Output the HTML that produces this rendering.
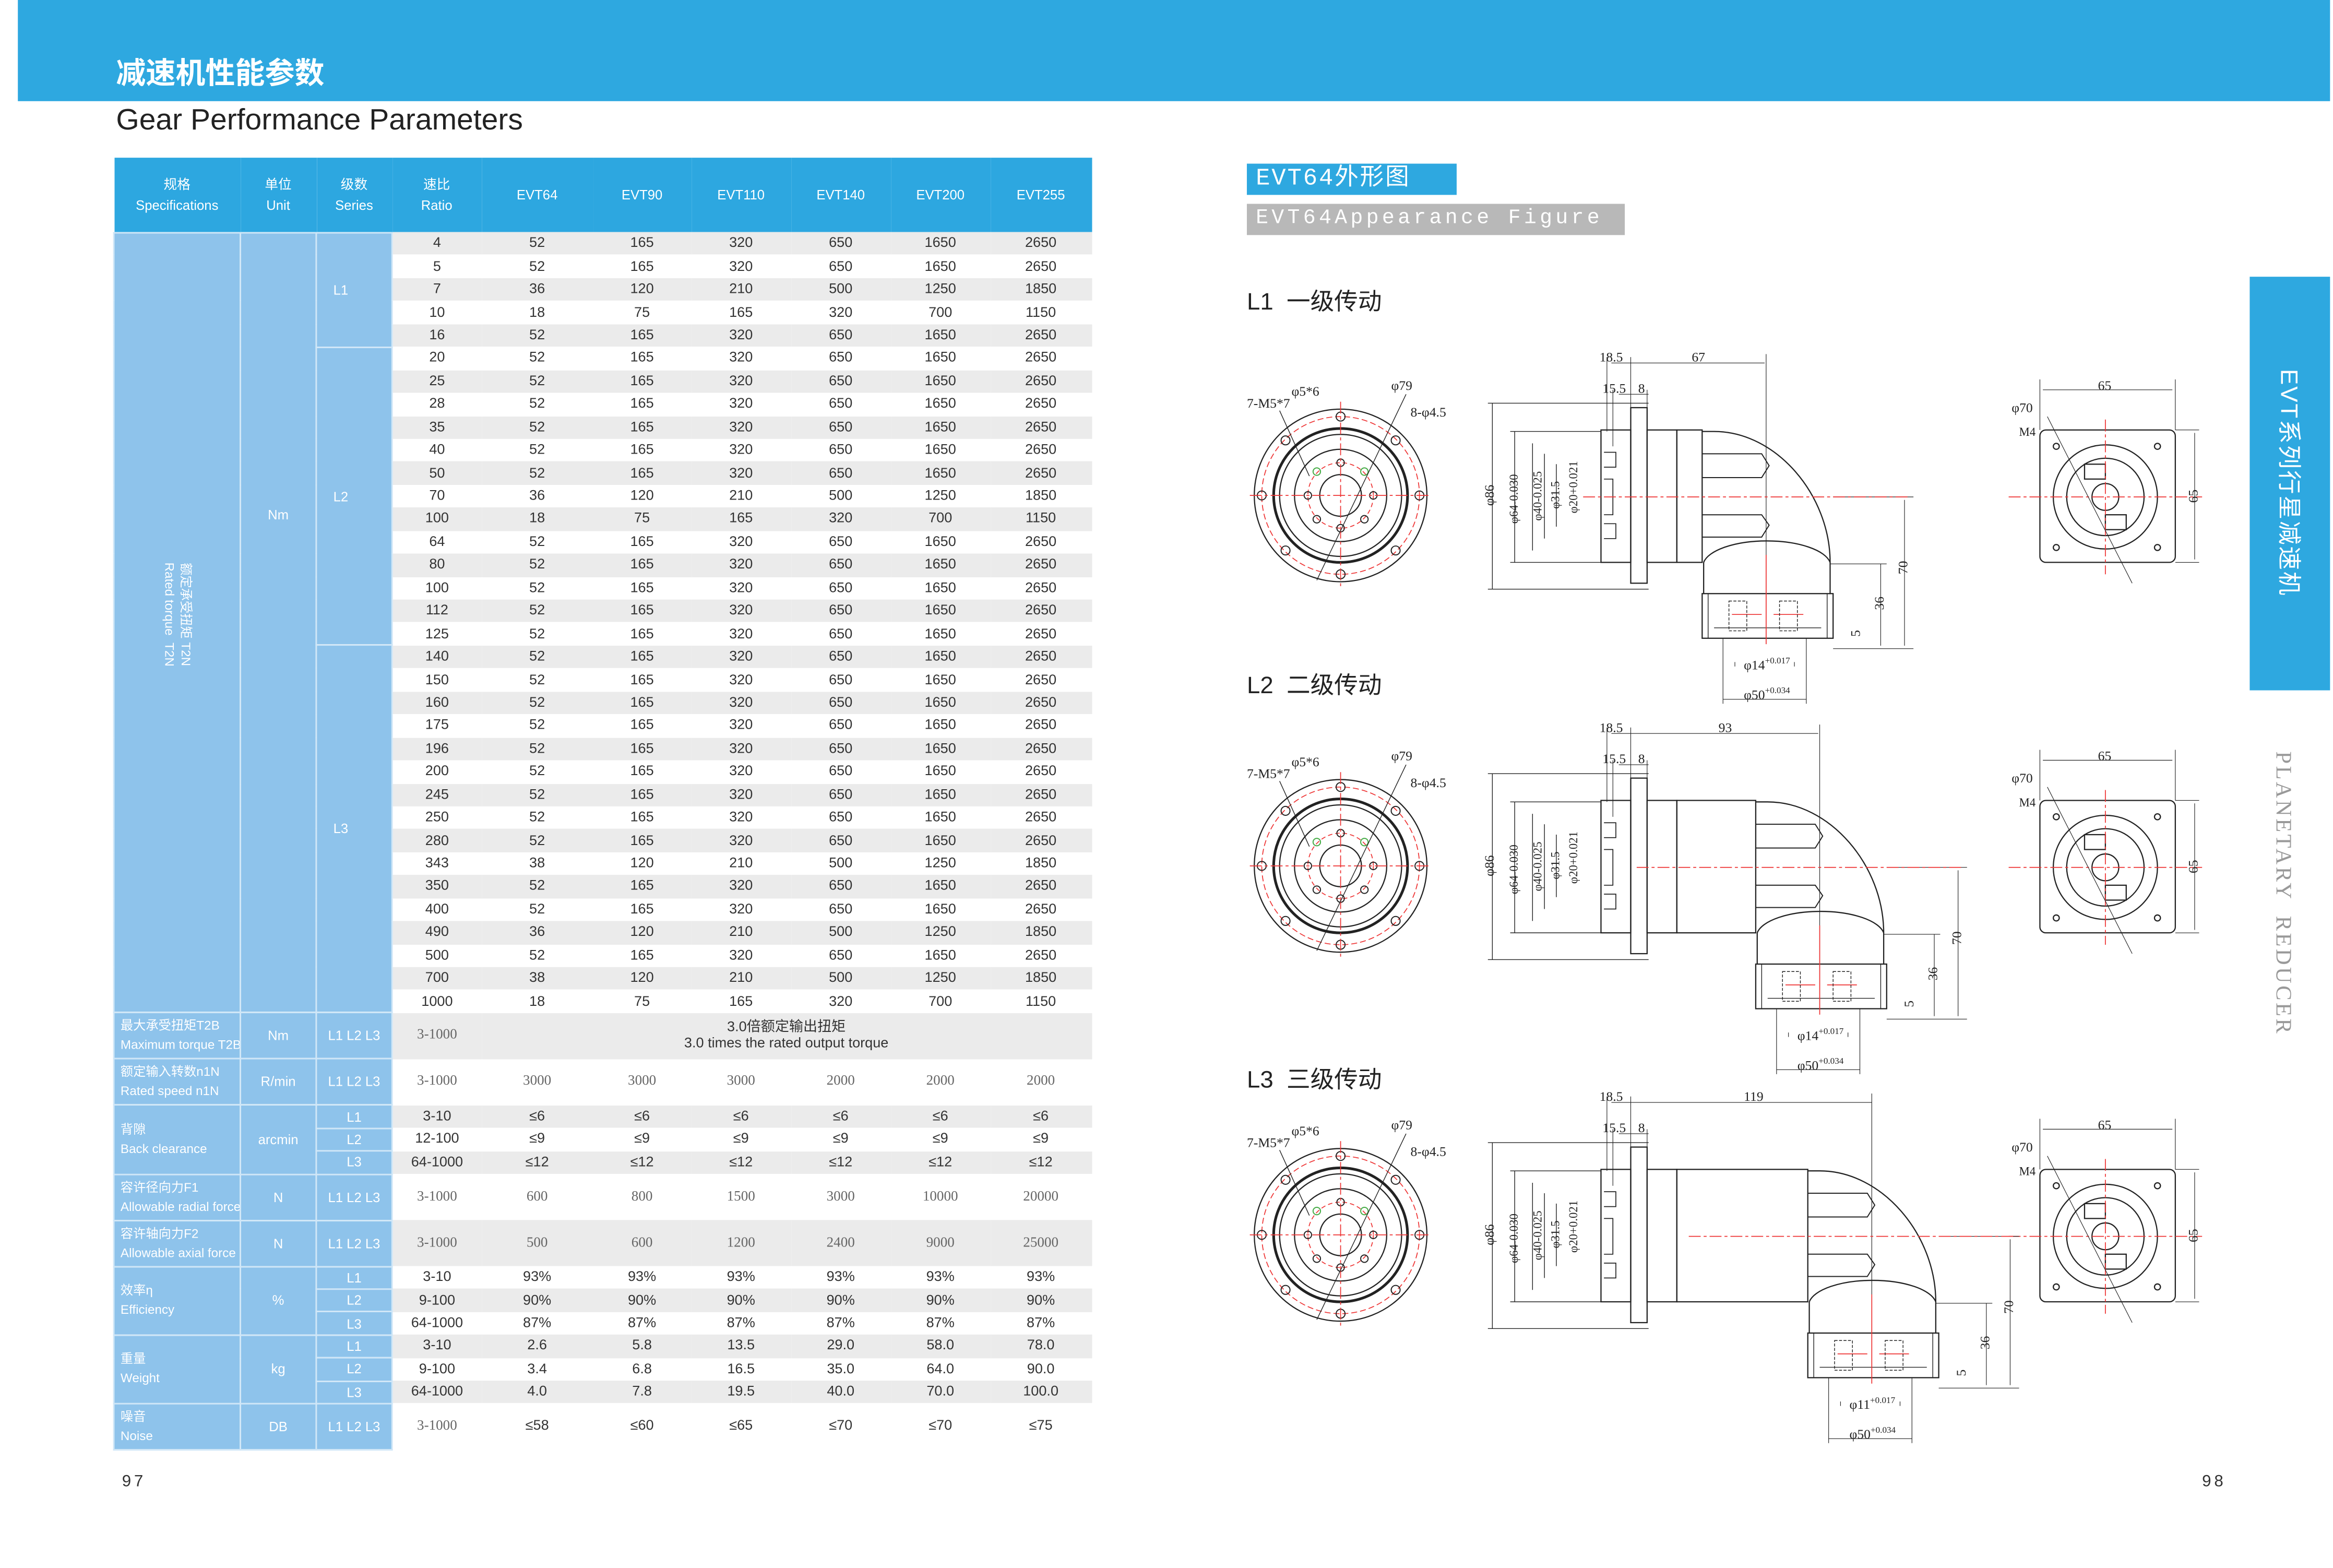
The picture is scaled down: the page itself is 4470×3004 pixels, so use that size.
<!DOCTYPE html>
<html><head><meta charset="utf-8">
<style>
*{margin:0;padding:0;box-sizing:border-box}
html,body{width:4470px;height:3004px;overflow:hidden;background:#fff}
#p{position:absolute;left:0;top:0;width:1568px;height:1054px;transform:scale(2.8508,2.8503);transform-origin:0 0;font-family:"Liberation Sans","Noto Sans CJK SC",sans-serif;background:#fff}
.ab{position:absolute}
table{position:absolute;left:76px;top:106px;width:657px;border-collapse:collapse;table-layout:fixed;font-size:9.5px;color:#333}
td{text-align:center;vertical-align:middle;padding:0;white-space:nowrap;overflow:hidden}
tr.h td{background:#2da7e0;color:#fff;height:50px;font-size:9px;line-height:14px}
tr.r td{height:15.44px}
tr.g td{background:#ebebeb}
td.b{background:#8ec3eb !important;color:#fff;border:1px solid #cfe6f7;font-size:9px}
td.l{text-align:left;padding-left:4px;line-height:13px;font-size:8.5px}
td.lv{text-align:left;padding-left:11px}
.sv{font-family:"Liberation Serif",serif;color:#666}
tr.t td{height:31px}
tr.s td{height:15.4px}
</style></head><body><div id="p">
<div class="ab" style="left:12px;top:0;width:1554px;height:68px;background:#2ea8e0"></div>
<div class="ab" style="left:78px;top:33px;color:#fff;font-size:20px;font-weight:bold;font-family:'Noto Sans CJK SC',sans-serif">减速机性能参数</div>
<div class="ab" style="left:78px;top:70px;color:#222;font-size:20px">Gear Performance Parameters</div>

<table>
<colgroup><col style="width:85px"><col style="width:51px"><col style="width:51px"><col style="width:60px"><col style="width:75px"><col style="width:66px"><col style="width:67px"><col style="width:67px"><col style="width:67px"><col style="width:68px"></colgroup>
<tr class="h"><td>规格<br>Specifications</td><td>单位<br>Unit</td><td>级数<br>Series</td><td>速比<br>Ratio</td><td>EVT64</td><td>EVT90</td><td>EVT110</td><td>EVT140</td><td>EVT200</td><td>EVT255</td></tr>
<tr class="r g"><td class="b" rowspan="34" style="vertical-align:top"><div style="height:245px"></div><div style="transform:rotate(90deg);white-space:nowrap;font-size:8.5px;line-height:11px">额定承受扭矩 T2N<br>Rated torque &nbsp;T2N</div></td><td class="b" rowspan="34" style="vertical-align:top;padding-top:184px">Nm</td><td class="b lv" rowspan="5">L1</td><td>4</td><td>52</td><td>165</td><td>320</td><td>650</td><td>1650</td><td>2650</td></tr>
<tr class="r"><td>5</td><td>52</td><td>165</td><td>320</td><td>650</td><td>1650</td><td>2650</td></tr>
<tr class="r g"><td>7</td><td>36</td><td>120</td><td>210</td><td>500</td><td>1250</td><td>1850</td></tr>
<tr class="r"><td>10</td><td>18</td><td>75</td><td>165</td><td>320</td><td>700</td><td>1150</td></tr>
<tr class="r g"><td>16</td><td>52</td><td>165</td><td>320</td><td>650</td><td>1650</td><td>2650</td></tr>
<tr class="r"><td class="b lv" rowspan="13">L2</td><td>20</td><td>52</td><td>165</td><td>320</td><td>650</td><td>1650</td><td>2650</td></tr>
<tr class="r g"><td>25</td><td>52</td><td>165</td><td>320</td><td>650</td><td>1650</td><td>2650</td></tr>
<tr class="r"><td>28</td><td>52</td><td>165</td><td>320</td><td>650</td><td>1650</td><td>2650</td></tr>
<tr class="r g"><td>35</td><td>52</td><td>165</td><td>320</td><td>650</td><td>1650</td><td>2650</td></tr>
<tr class="r"><td>40</td><td>52</td><td>165</td><td>320</td><td>650</td><td>1650</td><td>2650</td></tr>
<tr class="r g"><td>50</td><td>52</td><td>165</td><td>320</td><td>650</td><td>1650</td><td>2650</td></tr>
<tr class="r"><td>70</td><td>36</td><td>120</td><td>210</td><td>500</td><td>1250</td><td>1850</td></tr>
<tr class="r g"><td>100</td><td>18</td><td>75</td><td>165</td><td>320</td><td>700</td><td>1150</td></tr>
<tr class="r"><td>64</td><td>52</td><td>165</td><td>320</td><td>650</td><td>1650</td><td>2650</td></tr>
<tr class="r g"><td>80</td><td>52</td><td>165</td><td>320</td><td>650</td><td>1650</td><td>2650</td></tr>
<tr class="r"><td>100</td><td>52</td><td>165</td><td>320</td><td>650</td><td>1650</td><td>2650</td></tr>
<tr class="r g"><td>112</td><td>52</td><td>165</td><td>320</td><td>650</td><td>1650</td><td>2650</td></tr>
<tr class="r"><td>125</td><td>52</td><td>165</td><td>320</td><td>650</td><td>1650</td><td>2650</td></tr>
<tr class="r g"><td class="b lv" rowspan="16">L3</td><td>140</td><td>52</td><td>165</td><td>320</td><td>650</td><td>1650</td><td>2650</td></tr>
<tr class="r"><td>150</td><td>52</td><td>165</td><td>320</td><td>650</td><td>1650</td><td>2650</td></tr>
<tr class="r g"><td>160</td><td>52</td><td>165</td><td>320</td><td>650</td><td>1650</td><td>2650</td></tr>
<tr class="r"><td>175</td><td>52</td><td>165</td><td>320</td><td>650</td><td>1650</td><td>2650</td></tr>
<tr class="r g"><td>196</td><td>52</td><td>165</td><td>320</td><td>650</td><td>1650</td><td>2650</td></tr>
<tr class="r"><td>200</td><td>52</td><td>165</td><td>320</td><td>650</td><td>1650</td><td>2650</td></tr>
<tr class="r g"><td>245</td><td>52</td><td>165</td><td>320</td><td>650</td><td>1650</td><td>2650</td></tr>
<tr class="r"><td>250</td><td>52</td><td>165</td><td>320</td><td>650</td><td>1650</td><td>2650</td></tr>
<tr class="r g"><td>280</td><td>52</td><td>165</td><td>320</td><td>650</td><td>1650</td><td>2650</td></tr>
<tr class="r"><td>343</td><td>38</td><td>120</td><td>210</td><td>500</td><td>1250</td><td>1850</td></tr>
<tr class="r g"><td>350</td><td>52</td><td>165</td><td>320</td><td>650</td><td>1650</td><td>2650</td></tr>
<tr class="r"><td>400</td><td>52</td><td>165</td><td>320</td><td>650</td><td>1650</td><td>2650</td></tr>
<tr class="r g"><td>490</td><td>36</td><td>120</td><td>210</td><td>500</td><td>1250</td><td>1850</td></tr>
<tr class="r"><td>500</td><td>52</td><td>165</td><td>320</td><td>650</td><td>1650</td><td>2650</td></tr>
<tr class="r g"><td>700</td><td>38</td><td>120</td><td>210</td><td>500</td><td>1250</td><td>1850</td></tr>
<tr class="r"><td>1000</td><td>18</td><td>75</td><td>165</td><td>320</td><td>700</td><td>1150</td></tr>
<tr class="t g"><td class="b l">最大承受扭矩T2B<br>Maximum torque T2B</td><td class="b">Nm</td><td class="b">L1 L2 L3</td><td class="sv">3-1000</td><td colspan="6" style="line-height:11px">3.0倍额定输出扭矩<br>3.0 times the rated output torque</td></tr>
<tr class="t"><td class="b l">额定输入转数n1N<br>Rated speed n1N</td><td class="b">R/min</td><td class="b">L1 L2 L3</td><td class="sv">3-1000</td><td class="sv">3000</td><td class="sv">3000</td><td class="sv">3000</td><td class="sv">2000</td><td class="sv">2000</td><td class="sv">2000</td></tr>
<tr class="s g"><td class="b l" rowspan="3">背隙<br>Back clearance</td><td class="b" rowspan="3">arcmin</td><td class="b">L1</td><td>3-10</td><td>≤6</td><td>≤6</td><td>≤6</td><td>≤6</td><td>≤6</td><td>≤6</td></tr>
<tr class="s"><td class="b">L2</td><td>12-100</td><td>≤9</td><td>≤9</td><td>≤9</td><td>≤9</td><td>≤9</td><td>≤9</td></tr>
<tr class="s g"><td class="b">L3</td><td>64-1000</td><td>≤12</td><td>≤12</td><td>≤12</td><td>≤12</td><td>≤12</td><td>≤12</td></tr>
<tr class="t"><td class="b l">容许径向力F1<br>Allowable radial force</td><td class="b">N</td><td class="b">L1 L2 L3</td><td class="sv">3-1000</td><td class="sv">600</td><td class="sv">800</td><td class="sv">1500</td><td class="sv">3000</td><td class="sv">10000</td><td class="sv">20000</td></tr>
<tr class="t g"><td class="b l">容许轴向力F2<br>Allowable axial force</td><td class="b">N</td><td class="b">L1 L2 L3</td><td class="sv">3-1000</td><td class="sv">500</td><td class="sv">600</td><td class="sv">1200</td><td class="sv">2400</td><td class="sv">9000</td><td class="sv">25000</td></tr>
<tr class="s"><td class="b l" rowspan="3">效率η<br>Efficiency</td><td class="b" rowspan="3">%</td><td class="b">L1</td><td>3-10</td><td>93%</td><td>93%</td><td>93%</td><td>93%</td><td>93%</td><td>93%</td></tr>
<tr class="s g"><td class="b">L2</td><td>9-100</td><td>90%</td><td>90%</td><td>90%</td><td>90%</td><td>90%</td><td>90%</td></tr>
<tr class="s"><td class="b">L3</td><td>64-1000</td><td>87%</td><td>87%</td><td>87%</td><td>87%</td><td>87%</td><td>87%</td></tr>
<tr class="s g"><td class="b l" rowspan="3">重量<br>Weight</td><td class="b" rowspan="3">kg</td><td class="b">L1</td><td>3-10</td><td>2.6</td><td>5.8</td><td>13.5</td><td>29.0</td><td>58.0</td><td>78.0</td></tr>
<tr class="s"><td class="b">L2</td><td>9-100</td><td>3.4</td><td>6.8</td><td>16.5</td><td>35.0</td><td>64.0</td><td>90.0</td></tr>
<tr class="s g"><td class="b">L3</td><td>64-1000</td><td>4.0</td><td>7.8</td><td>19.5</td><td>40.0</td><td>70.0</td><td>100.0</td></tr>
<tr class="t"><td class="b l">噪音<br>Noise</td><td class="b">DB</td><td class="b">L1 L2 L3</td><td class="sv">3-1000</td><td>≤58</td><td>≤60</td><td>≤65</td><td>≤70</td><td>≤70</td><td>≤75</td></tr>
</table>
<div class="ab" style="left:82px;top:990px;font-size:11px;color:#333;letter-spacing:2px">97</div>
<div class="ab" style="left:1480px;top:990px;font-size:11px;color:#333;letter-spacing:2px">98</div>

<div class="ab" style="left:838px;top:110px;width:141px;height:21px;background:#2ea8e0;color:#fff;font-size:16px;line-height:21px;padding-left:6px;letter-spacing:1px;font-family:'Liberation Mono','Noto Sans CJK SC',monospace">EVT64外形图</div>
<div class="ab" style="left:838px;top:137px;width:254px;height:21px;background:#b8b8b8;color:#fff;font-size:14px;line-height:21px;padding-left:6px;letter-spacing:2.2px;font-family:'Liberation Mono',monospace">EVT64Appearance Figure</div>
<div class="ab" style="left:838px;top:189px;font-size:16px;color:#222">L1 &nbsp;一级传动</div>
<div class="ab" style="left:838px;top:447px;font-size:16px;color:#222">L2 &nbsp;二级传动</div>
<div class="ab" style="left:838px;top:712px;font-size:16px;color:#222">L3 &nbsp;三级传动</div>

<div class="ab" style="left:1512px;top:186px;width:54px;height:278px;background:#2ea8e0"></div>
<div class="ab" style="left:1528px;top:248px;writing-mode:vertical-rl;text-orientation:sideways;color:#fff;font-size:16px;letter-spacing:1px">EVT系列行星减速机</div>
<div class="ab" style="left:1525px;top:505px;writing-mode:vertical-rl;color:#999;font-size:15px;letter-spacing:1.5px;font-family:'Liberation Serif',serif">PLANETARY &nbsp;REDUCER</div>

<svg class="ab" style="left:0;top:0" width="1568" height="1054" viewBox="0 0 1568 1054" font-family="Liberation Serif,serif" font-size="9" fill="#222">
<defs>
<g id="cv" fill="none" stroke="#222" stroke-width="0.8">
<circle cx="901" cy="333" r="58"/>
<circle cx="901" cy="333" r="53" stroke="#e33" stroke-dasharray="4 2" stroke-width="0.6"/>
<circle cx="901" cy="333" r="45" stroke-width="1.8"/>
<circle cx="901" cy="333" r="41"/>
<circle cx="901" cy="333" r="31"/>
<circle cx="901" cy="333" r="22" stroke="#e33" stroke-dasharray="3 2" stroke-width="0.6"/>
<circle cx="901" cy="333" r="14"/>
<g stroke-width="0.7">
<circle cx="901" cy="280" r="3"/><circle cx="901" cy="386" r="3"/><circle cx="848" cy="333" r="3"/><circle cx="954" cy="333" r="3"/>
<circle cx="864" cy="296" r="3"/><circle cx="938" cy="296" r="3"/><circle cx="864" cy="370" r="3"/><circle cx="938" cy="370" r="3"/>
<circle cx="901" cy="311" r="2.5"/><circle cx="901" cy="355" r="2.5"/><circle cx="879" cy="333" r="2.5"/><circle cx="923" cy="333" r="2.5"/>
<circle cx="885" cy="317" r="2.5" stroke="#4a4"/><circle cx="917" cy="317" r="2.5" stroke="#4a4"/><circle cx="885" cy="349" r="2.5"/><circle cx="917" cy="349" r="2.5"/>
</g>
<path d="M840 333H962M901 270V396" stroke="#e33" stroke-width="0.6" stroke-dasharray="8 2 2 2"/>
<path d="M860 276L880 320M945 265L885 390" stroke-width="0.5"/>
<path d="M1000 271H1108M1015 290H1076M1000 396H1108M1015 378H1076" stroke-width="0.5"/>
<path d="M1003 271V396M1018 290V378M1030 298V370M1038 305V362M1046 312V354" stroke-width="0.5"/>
<rect x="1096" y="274" width="11" height="118"/>
<rect x="1076" y="289" width="20" height="89"/>
<path d="M1078 304H1086V314H1078M1078 322H1084V346H1078M1078 352H1086V362H1078" stroke-width="0.6"/>
<path d="M1080 240V290M1096 240V274M1084 262V300M1107 262V274" stroke-width="0.4"/>
<rect x="1371" y="289" width="91" height="89" rx="4"/>
<circle cx="1415" cy="334" r="35"/><circle cx="1415" cy="334" r="26"/><circle cx="1415" cy="334" r="9"/>
<circle cx="1382" cy="300" r="2"/><circle cx="1450" cy="300" r="2"/><circle cx="1382" cy="368" r="2"/><circle cx="1450" cy="368" r="2"/>
<rect x="1401" y="312" width="14" height="10"/><rect x="1415" y="346" width="14" height="10"/>
<path d="M1350 334H1480M1415 282V386" stroke="#e33" stroke-width="0.6" stroke-dasharray="8 2 2 2"/>
<path d="M1371 255V289M1462 255V289M1373 262H1460M1462 289H1478M1462 378H1478M1475 291V376" stroke-width="0.4"/>
<path d="M1376 280L1433 392" stroke-width="0.4"/>
</g>
<g id="el" fill="none" stroke="#222" stroke-width="0.8">
<path d="M0 -43H8C50 -43 86 0 86 45V66"/>
<path d="M1 45A43 17 0 0 1 86 45"/>
<path d="M1 45V66"/>
<rect x="0" y="66" width="88" height="30"/>
<path d="M4 66V96M84 66V96M8 89H80" stroke-width="0.5"/>
<path d="M14 96V140M70 96V140M14 137H70M22 112V115M62 112V115" stroke-width="0.4"/>
<path d="M0 -28H40L45 -20L40 -12H0M0 13H40L45 20L40 28H0" stroke-width="0.7"/>
<path d="M43 -95V96M88 1H142M88 103H142M136 3V101M120 46V101M86 46H124" stroke-width="0.4"/>
<path d="M-80 1H140" stroke="#e33" stroke-width="0.6" stroke-dasharray="8 2 2 2"/>
<path d="M43 40V100M20 80H40M48 80H68" stroke="#e33" stroke-width="0.6"/>
<rect x="18" y="71" width="12" height="20" stroke-dasharray="2 1" stroke-width="0.5"/>
<rect x="52" y="71" width="12" height="20" stroke-dasharray="2 1" stroke-width="0.5"/>
</g>
</defs>

<use href="#cv"/>
<g fill="none" stroke="#222" stroke-width="0.8"><rect x="1107" y="289" width="20" height="89"/><rect x="1127" y="289" width="17" height="89"/><path d="M1083 244H1186M1088 265H1108" stroke-width="0.4"/></g>
<use href="#el" transform="translate(1144,333)"/>
<use href="#cv" transform="translate(0,249)"/>
<g fill="none" stroke="#222" stroke-width="0.8"><rect x="1107" y="538" width="20" height="89"/><rect x="1127" y="538" width="53" height="89"/><path d="M1083 493H1222M1088 514H1108" stroke-width="0.4"/></g>
<use href="#el" transform="translate(1180,582)"/>
<use href="#cv" transform="translate(0,497)"/>
<g fill="none" stroke="#222" stroke-width="0.8"><rect x="1107" y="786" width="20" height="89"/><rect x="1127" y="786" width="88" height="89"/><path d="M1083 741H1258M1088 762H1108" stroke-width="0.4"/></g>
<use href="#el" transform="translate(1215,830)"/>

<g>
<text x="838" y="274">7-M5*7</text><text x="868" y="266">φ5*6</text><text x="935" y="262">φ79</text><text x="948" y="280">8-φ4.5</text>
<text x="1075" y="243">18.5</text><text x="1137" y="243">67</text><text x="1077" y="264">15.5</text><text x="1101" y="264">8</text>
<text transform="translate(1004,340) rotate(-90)">φ86</text><text transform="translate(1020,352) rotate(-90)" font-size="8">φ64-0.030</text>
<text transform="translate(1036,350) rotate(-90)" font-size="8">φ40-0.025</text><text transform="translate(1048,342) rotate(-90)" font-size="8">φ31.5</text>
<text transform="translate(1060,345) rotate(-90)" font-size="8">φ20+0.021</text>
<text transform="translate(1282,386) rotate(-90)">70</text><text transform="translate(1266,410) rotate(-90)">36</text><text transform="translate(1250,428) rotate(-90)">5</text>
<text x="1172" y="450">φ14<tspan font-size="6" dy="-4">+0.017</tspan></text><text x="1172" y="470">φ50<tspan font-size="6" dy="-4">+0.034</tspan></text>
<text x="1352" y="277">φ70</text><text x="1357" y="293" font-size="8">M4</text><text x="1410" y="262">65</text><text transform="translate(1477,338) rotate(-90)">65</text>
</g>
<g transform="translate(0,249)">
<text x="838" y="274">7-M5*7</text><text x="868" y="266">φ5*6</text><text x="935" y="262">φ79</text><text x="948" y="280">8-φ4.5</text>
<text x="1075" y="243">18.5</text><text x="1155" y="243">93</text><text x="1077" y="264">15.5</text><text x="1101" y="264">8</text>
<text transform="translate(1004,340) rotate(-90)">φ86</text><text transform="translate(1020,352) rotate(-90)" font-size="8">φ64-0.030</text>
<text transform="translate(1036,350) rotate(-90)" font-size="8">φ40-0.025</text><text transform="translate(1048,342) rotate(-90)" font-size="8">φ31.5</text>
<text transform="translate(1060,345) rotate(-90)" font-size="8">φ20+0.021</text>
<text transform="translate(1318,386) rotate(-90)">70</text><text transform="translate(1302,410) rotate(-90)">36</text><text transform="translate(1286,428) rotate(-90)">5</text>
<text x="1208" y="450">φ14<tspan font-size="6" dy="-4">+0.017</tspan></text><text x="1208" y="470">φ50<tspan font-size="6" dy="-4">+0.034</tspan></text>
<text x="1352" y="277">φ70</text><text x="1357" y="293" font-size="8">M4</text><text x="1410" y="262">65</text><text transform="translate(1477,338) rotate(-90)">65</text>
</g>
<g transform="translate(0,497)">
<text x="838" y="274">7-M5*7</text><text x="868" y="266">φ5*6</text><text x="935" y="262">φ79</text><text x="948" y="280">8-φ4.5</text>
<text x="1075" y="243">18.5</text><text x="1172" y="243">119</text><text x="1077" y="264">15.5</text><text x="1101" y="264">8</text>
<text transform="translate(1004,340) rotate(-90)">φ86</text><text transform="translate(1020,352) rotate(-90)" font-size="8">φ64-0.030</text>
<text transform="translate(1036,350) rotate(-90)" font-size="8">φ40-0.025</text><text transform="translate(1048,342) rotate(-90)" font-size="8">φ31.5</text>
<text transform="translate(1060,345) rotate(-90)" font-size="8">φ20+0.021</text>
<text transform="translate(1353,386) rotate(-90)">70</text><text transform="translate(1337,410) rotate(-90)">36</text><text transform="translate(1321,428) rotate(-90)">5</text>
<text x="1243" y="450">φ11<tspan font-size="6" dy="-4">+0.017</tspan></text><text x="1243" y="470">φ50<tspan font-size="6" dy="-4">+0.034</tspan></text>
<text x="1352" y="277">φ70</text><text x="1357" y="293" font-size="8">M4</text><text x="1410" y="262">65</text><text transform="translate(1477,338) rotate(-90)">65</text>
</g>
</svg>
</div></body></html>
